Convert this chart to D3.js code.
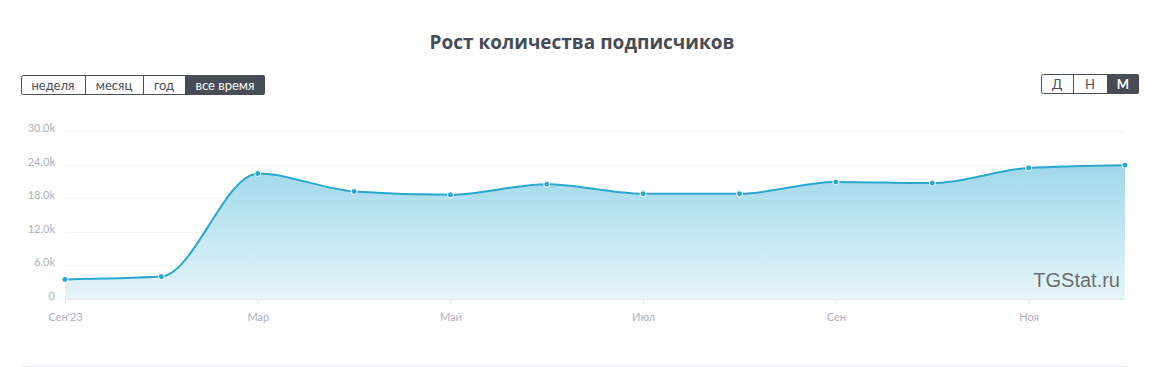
<!DOCTYPE html>
<html>
<head>
<meta charset="utf-8">
<style>
  body { margin: 0; background: #fff; font-family: "Lato", "Open Sans", sans-serif; }
  svg { display: block; }
</style>
<script src="https://d3js.org/d3.v7.min.js"></script>
</head>
<body>
<svg id="chart" width="1152" height="367"></svg>
<script>
// data
var months = ["Сен'23", "Фев", "Мар", "Апр", "Май", "Июн", "Июл", "Авг", "Сен", "Окт", "Ноя", "Дек"];
var subscribers = [3500, 4000, 22400, 19200, 18600, 20500, 18800, 18800, 20900, 20700, 23400, 23900];
var yTicks = [0, 6000, 12000, 18000, 24000, 30000];
var shownLabels = ["Сен'23", "Мар", "Май", "Июл", "Сен", "Ноя"];
var periodButtons = ["неделя", "месяц", "год", "все время"];
var scaleButtons = ["Д", "Н", "М"];

var svg = d3.select("#chart");
var margin = {left: 65, right: 27, top: 131, bottom: 68};
var W = 1152, H = 367;

// title
svg.append("text")
  .attr("x", 582).attr("y", 49)
  .attr("text-anchor", "middle")
  .attr("font-family", "Open Sans, sans-serif")
  .attr("font-size", 19).attr("font-weight", "bold")
  .attr("fill", "#464b55")
  .text("Рост количества подписчиков");

// button groups
function buttonGroup(labels, widths, x0, y0, active, bold) {
  var g = svg.append("g").attr("transform", "translate(" + x0 + "," + y0 + ")");
  var total = d3.sum(widths);
  var xs = [0];
  widths.forEach(function(w, i) { xs.push(xs[i] + w); });
  g.append("rect").attr("x", 0.5).attr("y", 0.5).attr("width", total - 1).attr("height", 19)
    .attr("rx", 2).attr("fill", "#fff").attr("stroke", "#4a4f59");
  labels.forEach(function(l, i) {
    if (i == active) {
      g.append("path")
        .attr("d", i == labels.length - 1
          ? "M" + xs[i] + ",0H" + (xs[i+1] - 2) + "q2,0 2,2V18q0,2 -2,2H" + xs[i] + "Z"
          : "M" + xs[i] + ",0H" + xs[i+1] + "V20H" + xs[i] + "Z")
        .attr("fill", "#474c57");
    } else if (i > 0) {
      g.append("line").attr("x1", xs[i] + 0.5).attr("x2", xs[i] + 0.5).attr("y1", 0).attr("y2", 20)
        .attr("stroke", "#4a4f59");
    }
    g.append("text")
      .attr("x", (xs[i] + xs[i+1]) / 2).attr("y", 14.5)
      .attr("text-anchor", "middle").attr("font-size", 13)
      .attr("font-weight", (bold && i == active) ? "bold" : "normal")
      .attr("fill", i == active ? "#fff" : "#4a4f59")
      .text(l);
  });
}
buttonGroup(periodButtons, [64, 58, 42, 80], 21, 75, 3, false);
buttonGroup(scaleButtons, [32, 34, 32], 1041, 74, 2, true);

// scales
var x = d3.scalePoint().domain(months).range([margin.left, W - margin.right]);
var y = d3.scaleLinear().domain([0, 30000]).range([H - margin.bottom, margin.top]);

// grid
svg.append("g").selectAll("line").data(yTicks.slice(1)).enter().append("line")
  .attr("x1", margin.left).attr("x2", W - margin.right)
  .attr("y1", function(d) { return Math.round(y(d)) + 0.5; })
  .attr("y2", function(d) { return Math.round(y(d)) + 0.5; })
  .attr("stroke", "#f3f3f3");

// y labels
var yAxis = d3.axisLeft(y).tickValues(yTicks).tickSize(0).tickPadding(10)
  .tickFormat(function(d) { return d == 0 ? "0" : (d / 1000).toFixed(1) + "k"; });
var ya = svg.append("g").attr("transform", "translate(" + margin.left + ",-3)").call(yAxis);
ya.select(".domain").remove();
ya.selectAll("text").attr("font-size", 11).attr("fill", "#adb2bb").attr("font-family", "Lato, sans-serif");

// gradient
var grad = svg.append("defs").append("linearGradient").attr("id", "areaGrad")
  .attr("x1", 0).attr("y1", 0).attr("x2", 0).attr("y2", 1);
grad.append("stop").attr("offset", "0%").attr("stop-color", "#9fd8ea");
grad.append("stop").attr("offset", "100%").attr("stop-color", "#e6f5fa");

var area = d3.area()
  .x(function(d, i) { return x(months[i]); })
  .y0(y(0)).y1(function(d) { return y(d); })
  .curve(d3.curveMonotoneX);
var line = d3.line()
  .x(function(d, i) { return x(months[i]); })
  .y(function(d) { return y(d); })
  .curve(d3.curveMonotoneX);

svg.append("path").datum(subscribers).attr("d", area).attr("fill", "url(#areaGrad)");

// x axis
var xAxis = d3.axisBottom(x).tickSize(5).tickPadding(9)
  .tickValues(shownLabels.map(function(l, i) { return months[months.indexOf(l, i == 0 ? 0 : 2)]; }));
var xa = svg.append("g").attr("transform", "translate(0," + (y(0) + 0.5) + ")").call(xAxis);
xa.select(".domain").attr("stroke", "#e6e6e6").attr("d", "M" + margin.left + ",0H" + (W - margin.right));
xa.selectAll(".tick line").attr("stroke", "#e6e6e6");
xa.selectAll("text").attr("font-size", 11).attr("fill", "#adb2bb").attr("font-family", "Lato, sans-serif");

// watermark
svg.append("text")
  .attr("x", 1120).attr("y", 287).attr("text-anchor", "end")
  .attr("font-family", "Liberation Sans, Arial, sans-serif").attr("font-size", 20)
  .attr("fill", "#555").attr("fill-opacity", 0.85)
  .text("TGStat.ru");

// line and markers
svg.append("path").datum(subscribers).attr("d", line)
  .attr("fill", "none").attr("stroke", "#2aa7d1").attr("stroke-width", 2);
svg.append("g").selectAll("circle").data(subscribers).enter().append("circle")
  .attr("cx", function(d, i) { return x(months[i]); })
  .attr("cy", function(d) { return y(d); })
  .attr("r", 3).attr("fill", "#2aa7d1").attr("stroke", "#fff").attr("stroke-width", 1);

// bottom separator
svg.append("line").attr("x1", 23).attr("x2", 1128).attr("y1", 366.5).attr("y2", 366.5)
  .attr("stroke", "#e6e9ef");
</script>
</body>
</html>
